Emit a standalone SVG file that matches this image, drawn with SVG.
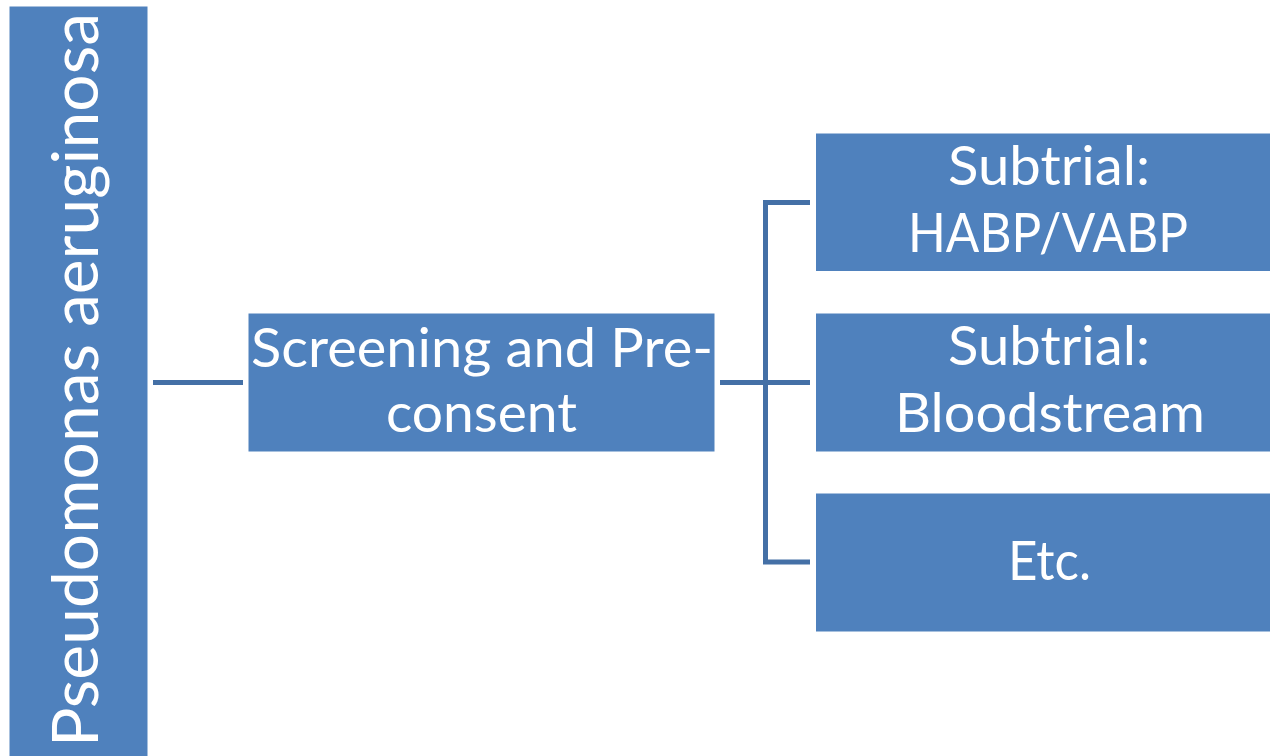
<svg xmlns="http://www.w3.org/2000/svg" width="1270" height="756" viewBox="0 0 1270 756">
<style>
.box{fill:#4F81BD;stroke:#FFFFFF;stroke-width:1}
.lbl{fill:#FFFFFF;font-family:Lato,"Open Sans","Liberation Sans",sans-serif;font-size:55px;text-anchor:middle}
.conn{fill:none;stroke:#4470A6;stroke-width:5;stroke-linecap:butt;stroke-linejoin:miter}
</style>
<rect width="1270" height="756" fill="#FFFFFF"/>
<g id="connectors">
<line class="conn" x1="153" y1="382.5" x2="243" y2="382.5"/>
<line class="conn" x1="720" y1="382.5" x2="810" y2="382.5"/>
<polyline class="conn" points="810,202.5 765.5,202.5 765.5,562 810,562"/>
</g>
<g id="node-pseudomonas">
<rect class="box" x="9" y="6" width="139" height="754"/>
<text class="lbl" transform="translate(98,380) rotate(-90)" x="0" y="0" style="font-size:64px" textLength="734" lengthAdjust="spacingAndGlyphs">Pseudomonas aeruginosa</text>
</g>
<g id="node-screening">
<rect class="box" x="248" y="313" width="467" height="139"/>
<text class="lbl" x="482" y="367" textLength="462" lengthAdjust="spacingAndGlyphs">Screening and Pre-</text>
<text class="lbl" x="481.5" y="432" textLength="191" lengthAdjust="spacingAndGlyphs">consent</text>
</g>
<g id="node-habp">
<rect class="box" x="815.5" y="133" width="467" height="138.5"/>
<text class="lbl" x="1049" y="185" textLength="202" lengthAdjust="spacingAndGlyphs">Subtrial:</text>
<text class="lbl" x="1048" y="252" textLength="280" lengthAdjust="spacingAndGlyphs">HABP/VABP</text>
</g>
<g id="node-bloodstream">
<rect class="box" x="815.5" y="313" width="467" height="139"/>
<text class="lbl" x="1049" y="365" textLength="202" lengthAdjust="spacingAndGlyphs">Subtrial:</text>
<text class="lbl" x="1050" y="432" textLength="310" lengthAdjust="spacingAndGlyphs">Bloodstream</text>
</g>
<g id="node-etc">
<rect class="box" x="815.5" y="493" width="467" height="139"/>
<text class="lbl" x="1049.5" y="580" textLength="83" lengthAdjust="spacingAndGlyphs">Etc.</text>
</g>
</svg>
